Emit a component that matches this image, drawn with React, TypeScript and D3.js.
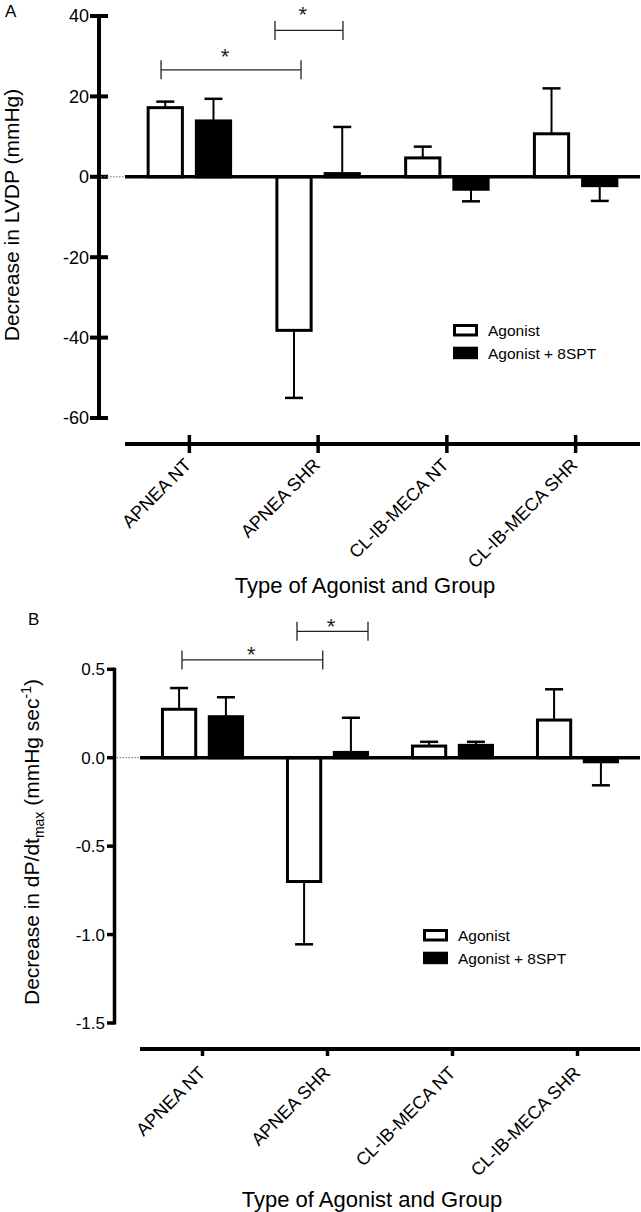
import React from "react";
import * as d3 from "d3";

const groups = ["APNEA NT", "APNEA SHR", "CL-IB-MECA NT", "CL-IB-MECA SHR"];
const series = ["Agonist", "Agonist + 8SPT"];

// Panel A: decrease in LVDP (mmHg), mean and SEM
const lvdpAgonist = [17.2, -38.2, 4.7, 10.7];
const lvdpAgonistErr = [1.5, 16.8, 2.8, 11.3];
const lvdpSpt = [13.9, 0.8, -3.1, -2.2];
const lvdpSptErr = [5.5, 11.6, 3.0, 3.8];
const lvdpTicks = [40, 20, 0, -20, -40, -60];

// Panel B: decrease in dP/dt max (mmHg sec-1)
const dpdtAgonist = [0.274, -0.7, 0.066, 0.213];
const dpdtAgonistErr = [0.12, 0.355, 0.024, 0.174];
const dpdtSpt = [0.232, 0.03, 0.07, -0.023];
const dpdtSptErr = [0.11, 0.196, 0.02, 0.133];
const dpdtTicks = [0.5, 0.0, -0.5, -1.0, -1.5];

// significance brackets: ends and star in group units, height in data units
const lvdpBrackets = [
  { from: 0.28, to: 1.367, star: 0.777, value: 26.6, starDy: -6 },
  { from: 1.165, to: 1.693, star: 1.38, value: 36.4, starDy: -8 },
];
const dpdtBrackets = [
  { from: 0.336, to: 1.462, star: 0.89, value: 0.553, starDy: 2 },
  { from: 1.256, to: 1.824, star: 1.528, value: 0.715, starDy: 3 },
];

const FONT = "'Liberation Sans', Arial, Helvetica, sans-serif";

const Panel = ({ cfg }) => {
  const x = d3.scaleBand().domain(groups).range(cfg.xRange).padding(0);
  const inner = d3
    .scaleBand()
    .domain(series)
    .range([0, x.bandwidth()])
    .paddingInner(0.29)
    .paddingOuter(0.48);
  const y = d3.scaleLinear().domain(cfg.yDomain).range(cfg.yRange);
  const u = d3.scaleLinear().domain([0, groups.length]).range(cfg.xRange);

  const rows = groups.flatMap((g, i) => [
    { g, s: series[0], v: cfg.agonist[i], e: cfg.agonistErr[i] },
    { g, s: series[1], v: cfg.spt[i], e: cfg.sptErr[i] },
  ]);

  const y0 = y(0);
  const capW = 18;

  return (
    <g fontFamily={FONT}>
      {/* panel letter */}
      <text x={cfg.letterPos[0]} y={cfg.letterPos[1]} fontSize={17}>
        {cfg.letter}
      </text>

      {/* y axis */}
      <line
        x1={cfg.axisX}
        x2={cfg.axisX}
        y1={y(cfg.yDomain[1]) - 1.5}
        y2={y(cfg.yDomain[0]) + 1.5}
        stroke="#000"
        strokeWidth={cfg.axisW}
      />
      {cfg.ticks.map((t) => (
        <g key={t}>
          <line
            x1={cfg.axisX + cfg.yTick[0]}
            x2={cfg.axisX + cfg.yTick[1]}
            y1={y(t)}
            y2={y(t)}
            stroke="#000"
            strokeWidth={cfg.axisW}
          />
          <text
            x={cfg.tickLabelX}
            y={y(t)}
            dy="0.36em"
            textAnchor="end"
            fontSize={cfg.tickFont}
          >
            {cfg.fmt(t)}
          </text>
        </g>
      ))}

      {/* dotted stub from axis to baseline */}
      <line
        x1={cfg.axisX + 2}
        x2={cfg.xRange[0]}
        y1={y0}
        y2={y0}
        stroke="#666"
        strokeWidth={1}
        strokeDasharray="1.5,1.5"
      />

      {/* bars */}
      {rows.map((r) => {
        const bx = (x(r.g) ?? 0) + (inner(r.s) ?? 0);
        const top = Math.min(y(r.v), y0);
        const h = Math.abs(y(r.v) - y0);
        return (
          <rect
            key={r.g + r.s}
            x={bx}
            y={top}
            width={inner.bandwidth()}
            height={h}
            fill={r.s === series[0] ? "#fff" : "#000"}
            stroke="#000"
            strokeWidth={3}
          />
        );
      })}

      {/* error bars, one-sided */}
      {rows.map((r) => {
        const cx = (x(r.g) ?? 0) + (inner(r.s) ?? 0) + inner.bandwidth() / 2;
        const end = r.v >= 0 ? r.v + r.e : r.v - r.e;
        return (
          <g key={"e" + r.g + r.s} stroke="#000">
            <line x1={cx} x2={cx} y1={y(r.v)} y2={y(end)} strokeWidth={2} />
            <line
              x1={cx - capW / 2}
              x2={cx + capW / 2}
              y1={y(end)}
              y2={y(end)}
              strokeWidth={2.5}
            />
          </g>
        );
      })}

      {/* zero baseline */}
      <line
        x1={cfg.xRange[0]}
        x2={cfg.xRange[1]}
        y1={y0}
        y2={y0}
        stroke="#000"
        strokeWidth={3.5}
      />

      {/* significance brackets */}
      {cfg.brackets.map((b, i) => (
        <g key={"b" + i} stroke="#222" strokeWidth={1.3}>
          <line x1={u(b.from)} x2={u(b.to)} y1={y(b.value)} y2={y(b.value)} />
          <line x1={u(b.from)} x2={u(b.from)} y1={y(b.value) - 9.5} y2={y(b.value) + 9.5} />
          <line x1={u(b.to)} x2={u(b.to)} y1={y(b.value) - 9.5} y2={y(b.value) + 9.5} />
          <text
            x={u(b.star)}
            y={y(b.value) + b.starDy}
            textAnchor="middle"
            fontSize={22}
            stroke="none"
            fill="#222"
          >
            *
          </text>
        </g>
      ))}

      {/* x axis */}
      <line
        x1={cfg.xRange[0]}
        x2={cfg.xRange[1]}
        y1={cfg.xAxisY}
        y2={cfg.xAxisY}
        stroke="#000"
        strokeWidth={4}
      />
      {groups.map((g) => {
        const cx = (x(g) ?? 0) + x.bandwidth() / 2;
        return (
          <g key={"x" + g}>
            <line
              x1={cx}
              x2={cx}
              y1={cfg.xAxisY + cfg.xTick[0]}
              y2={cfg.xAxisY + cfg.xTick[1]}
              stroke="#000"
              strokeWidth={3.5}
            />
            <text
              transform={`translate(${cx + cfg.xLabelOff[0]},${cfg.xAxisY + cfg.xLabelOff[1]}) rotate(-45)`}
              textAnchor="end"
              fontSize={18}
            >
              {g}
            </text>
          </g>
        );
      })}

      {/* x title */}
      <text x={cfg.titlePos[0]} y={cfg.titlePos[1]} textAnchor="middle" fontSize={22}>
        Type of Agonist and Group
      </text>

      {/* y title */}
      {cfg.yTitle}

      {/* legend */}
      {series.map((s, i) => (
        <g key={"l" + s}>
          <rect
            x={cfg.legend[0] + 1.5}
            y={cfg.legend[1] + i * 22.7 + 1.5}
            width={22}
            height={9.5}
            fill={i === 0 ? "#fff" : "#000"}
            stroke="#000"
            strokeWidth={3}
          />
          <text
            x={cfg.legend[0] + 35}
            y={cfg.legend[1] + i * 22.7 + 12}
            fontSize={15.5}
          >
            {s}
          </text>
        </g>
      ))}
    </g>
  );
};

const panelA = {
  letter: "A",
  letterPos: [5, 17],
  agonist: lvdpAgonist,
  agonistErr: lvdpAgonistErr,
  spt: lvdpSpt,
  sptErr: lvdpSptErr,
  ticks: lvdpTicks,
  fmt: (v) => String(v),
  xRange: [125, 640],
  yDomain: [-60, 40],
  yRange: [418, 16],
  axisX: 99,
  axisW: 4,
  yTick: [-9, 9],
  tickLabelX: 89,
  tickFont: 18,
  xAxisY: 444,
  xTick: [-9, 9],
  xLabelOff: [3, 22],
  titlePos: [365, 593],
  legend: [453, 324],
  brackets: lvdpBrackets,
  yTitle: (
    <text transform="translate(19,215) rotate(-90)" textAnchor="middle" fontSize={21}>
      Decrease in LVDP (mmHg)
    </text>
  ),
};

const panelB = {
  letter: "B",
  letterPos: [28, 625],
  agonist: dpdtAgonist,
  agonistErr: dpdtAgonistErr,
  spt: dpdtSpt,
  sptErr: dpdtSptErr,
  ticks: dpdtTicks,
  fmt: (v) => v.toFixed(1),
  xRange: [140, 640],
  yDomain: [-1.5, 0.5],
  yRange: [1023, 669.3],
  axisX: 114.5,
  axisW: 3.5,
  yTick: [-7.5, 0],
  tickLabelX: 105,
  tickFont: 17,
  xAxisY: 1049,
  xTick: [0, 7],
  xLabelOff: [4, 25],
  titlePos: [372, 1207],
  legend: [423, 929],
  brackets: dpdtBrackets,
  yTitle: (
    <text transform="translate(39,842) rotate(-90)" textAnchor="middle" fontSize={21}>
      Decrease in dP/dt
      <tspan fontSize={14} dy={5}>max</tspan>
      <tspan dy={-5}> (mmHg sec</tspan>
      <tspan fontSize={14} dy={-8}>-1</tspan>
      <tspan dy={8}>)</tspan>
    </text>
  ),
};

export default function App() {
  return (
    <div style={{ position: "absolute", left: 0, top: 0 }}>
      <svg width={641} height={1212} style={{ display: "block", background: "#fff" }}>
        <Panel cfg={panelA} />
        <Panel cfg={panelB} />
      </svg>
    </div>
  );
}
